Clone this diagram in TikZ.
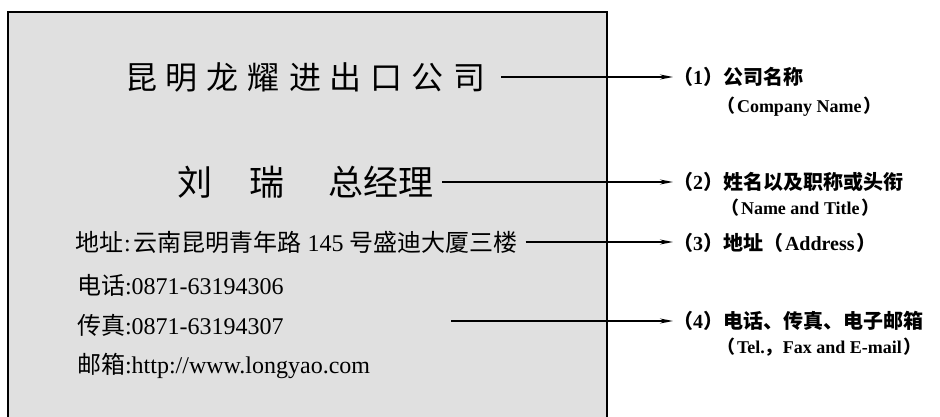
\documentclass[tikz,border=0pt]{standalone}
\usepackage{fontspec}
\setmainfont{Liberation Serif}
\newfontfamily\cjk{Noto Sans CJK SC}
\usetikzlibrary{arrows.meta}
\definecolor{cardgray}{HTML}{E0E0E0}
\newcommand\tsp{\kern9pt}
\begin{document}
\begin{tikzpicture}[x=1pt,y=-1pt,
  every node/.style={inner sep=0pt, outer sep=0pt},
  arr/.style={line width=1.3pt, -{Stealth[length=13pt,width=5pt]}},
  card/.style={fill=cardgray, draw=black, line width=2pt},
  titletext/.style={anchor=west, font=\cjk\fontsize{32}{36}\selectfont},
  nametext/.style={anchor=west, font=\cjk\fontsize{35}{40}\selectfont},
  bodytext/.style={anchor=west, font=\cjk\fontsize{24}{27}\selectfont},
  lbl/.style={anchor=west, font=\cjk\bfseries\fontsize{20}{23}\selectfont},
  lblen/.style={anchor=west, font=\bfseries\fontsize{18}{21}\selectfont}]
\clip (0,0) rectangle (940,417);
\fill[white] (0,0) rectangle (940,417);
\draw[card] (8,12) rectangle (607,440);

\node[titletext] (t1) at (125,77) {昆\tsp 明\tsp 龙\tsp 耀\tsp 进\tsp 出\tsp 口\tsp 公\tsp 司};
\node[nametext] (t2) at (177,182) {刘\kern38pt 瑞\kern44pt 总经理};
\node[bodytext] (t3) at (75,242) {地址{\rmfamily\kern1pt:\kern3pt}云南昆明青年路{\rmfamily\ 145 }号盛迪大厦三楼};
\node[bodytext] (t4) at (77,285) {电话{\rmfamily :0871-63194306}};
\node[bodytext] (t5) at (77,325) {传真{\rmfamily :0871-63194307}};
\node[bodytext] (t6) at (77,366) {邮箱{\rmfamily :http://www.longyao.com}};

\node[lbl] (l1) at (673,77) {（{\rmfamily 1}）公司名称};
\node[lblen] (l1b) at (717,107) {{\cjk （}\kern2pt Company Name\kern2pt{\cjk ）}};
\node[lbl] (l2) at (673,182) {（{\rmfamily 2}）姓名以及职称或头衔};
\node[lblen] (l2b) at (721,208) {{\cjk （}\kern2pt Name and Title\kern2pt{\cjk ）}};
\node[lbl] (l3) at (673,243) {（{\rmfamily 3}）地址（{\rmfamily\kern2pt Address\kern2pt}）};
\node[lbl] (l4) at (673,321) {（{\rmfamily 4}）电话、传真、电子邮箱};
\node[lblen] (l4b) at (717,347) {{\cjk （}\kern2pt Tel.{\cjk ，}Fax and E-mail\kern2pt{\cjk ）}};

\coordinate (c1) at ([xshift=16pt]t1.east);
\coordinate (c2) at ([xshift=8pt]t2.east);
\coordinate (c3) at ([xshift=8pt]t3.east);
\coordinate (c4) at (451,321);
\draw[arr] (c1) -- (c1 -| l1.west);
\draw[arr] (c2) -- (c2 -| l2.west);
\draw[arr] (c3) -- (c3 -| l3.west);
\draw[arr] (c4) -- (c4 -| l4.west);
\end{tikzpicture}
\end{document}
